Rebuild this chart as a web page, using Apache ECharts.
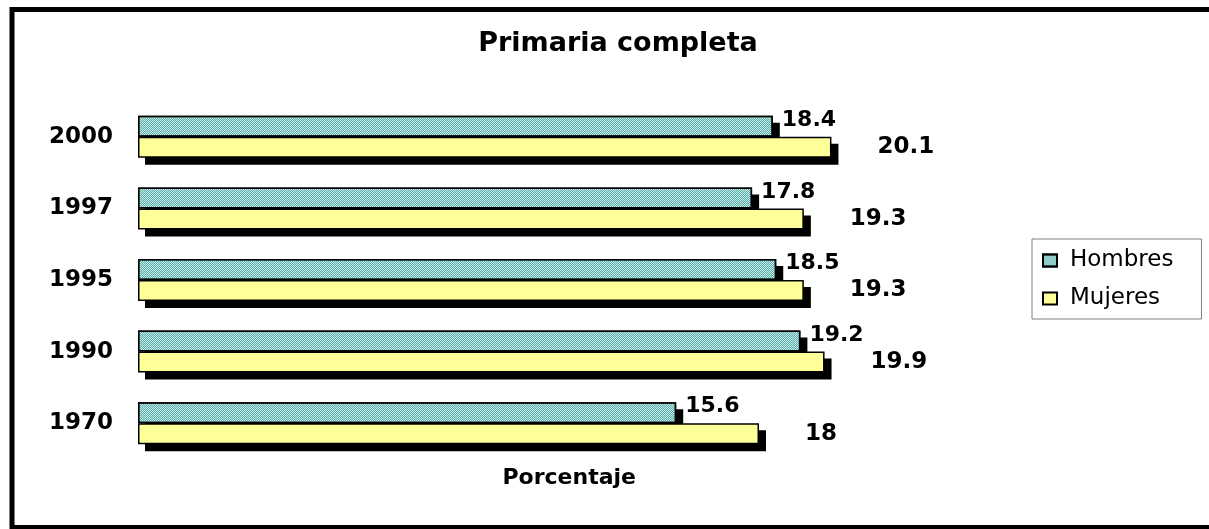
<!DOCTYPE html>
<html>
<head>
<meta charset="utf-8">
<script src="https://cdn.jsdelivr.net/npm/echarts@6/dist/echarts.min.js"></script>
<style>
  html, body { margin: 0; padding: 0; background: #fff; }
  #chart { width: 1209px; height: 529px; }
</style>
</head>
<body>
<div id="chart"></div>
<script>
// years, bottom to top
const years = ["1970", "1990", "1995", "1997", "2000"];
const hombres = [15.6, 19.2, 18.5, 17.8, 18.4];
const mujeres = [18, 19.9, 19.3, 19.3, 20.1];

const chart = echarts.init(document.getElementById("chart"));

const font = "DejaVu Sans";
const barLabel = {
  show: true,
  position: "right",
  fontFamily: font,
  fontWeight: "bold",
  color: "#000",
};

// hidden axes; grid 1 is the same grid moved 7px right/down for the drop shadows
const hiddenX = {
  type: "value",
  min: 0,
  max: 25,
  axisLine: { show: false },
  axisTick: { show: false },
  axisLabel: { show: false },
  splitLine: { show: false },
};

chart.setOption({
  animation: false,
  backgroundColor: "#fff",
  title: {
    text: "Primaria completa",
    left: 613,
    top: 25,
    textAlign: "center",
    textStyle: { fontFamily: font, fontWeight: "bold", fontSize: 27, color: "#000" },
  },
  legend: {
    orient: "vertical",
    left: 1032,
    top: 239,
    padding: [10, 28, 9, 10],
    itemGap: 15,
    itemWidth: 14,
    itemHeight: 12,
    icon: "rect",
    borderColor: "#808080",
    borderWidth: 1,
    textStyle: { fontFamily: font, fontSize: 23, color: "#000", padding: [0, 0, 0, 8] },
    data: ["Hombres", "Mujeres"],
  },
  grid: [
    { left: 138, top: 101, width: 862.5, bottom: 70 },
    { left: 145, top: 108, width: 862.5, bottom: 63 },
  ],
  xAxis: [
    Object.assign({}, hiddenX, {
      gridIndex: 0,
      name: "Porcentaje",
      nameLocation: "middle",
      nameGap: 8,
      nameTextStyle: { fontFamily: font, fontWeight: "bold", fontSize: 22, color: "#000" },
    }),
    Object.assign({}, hiddenX, { gridIndex: 1 }),
  ],
  yAxis: [
    {
      type: "category",
      gridIndex: 0,
      data: years,
      axisLine: { show: false },
      axisTick: { show: false },
      axisLabel: {
        margin: 25,
        fontFamily: font,
        fontWeight: "bold",
        fontSize: 23,
        color: "#000",
      },
    },
    {
      type: "category",
      gridIndex: 1,
      data: years,
      show: false,
    },
  ],
  series: [
    {
      name: "shadow",
      type: "bar",
      xAxisIndex: 1,
      yAxisIndex: 1,
      data: hombres,
      barWidth: 21,
      barGap: "0%",
      z: 1,
      silent: true,
      itemStyle: { color: "#000" },
    },
    {
      name: "shadow",
      type: "bar",
      xAxisIndex: 1,
      yAxisIndex: 1,
      data: mujeres,
      barWidth: 21,
      barGap: "0%",
      z: 1,
      silent: true,
      itemStyle: { color: "#000" },
    },
    {
      name: "Hombres",
      type: "bar",
      data: hombres,
      barWidth: 21,
      barGap: "0%",
      z: 3,
      itemStyle: {
        color: "#c6ebe8",
        borderColor: "#000",
        borderWidth: 1.5,
        decal: {
          symbol: "rect",
          symbolSize: 1,
          color: "#5aaca8",
          dashArrayX: [[1, 1], [0, 1, 1, 0]],
          dashArrayY: [1, 0],
        },
      },
      label: Object.assign({}, barLabel, { distance: 9, offset: [0, -6], fontSize: 22 }),
    },
    {
      name: "Mujeres",
      type: "bar",
      data: mujeres,
      barWidth: 21,
      barGap: "0%",
      z: 3,
      itemStyle: { color: "#ffff99", borderColor: "#000", borderWidth: 1.5 },
      label: Object.assign({}, barLabel, { distance: 46, fontSize: 23 }),
    },
  ],
  graphic: [
    {
      type: "rect",
      silent: true,
      shape: { x: 12, y: 9.5, width: 1215, height: 518 },
      style: { fill: "none", stroke: "#000", lineWidth: 5 },
    },
  ],
});
</script>
</body>
</html>
